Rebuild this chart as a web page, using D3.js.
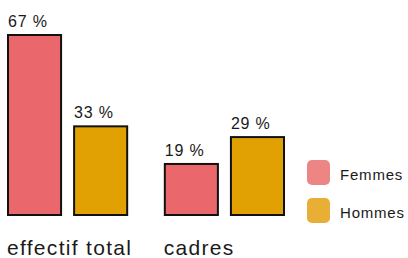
<!DOCTYPE html>
<html>
<head>
<meta charset="utf-8">
<script src="https://d3js.org/d3.v7.min.js"></script>
<style>
  body { margin: 0; background: #fff; }
  text { font-family: "Liberation Sans", Arial, sans-serif; fill: #1a1a1a; }
</style>
</head>
<body>
<div id="chart"></div>
<script>
var svgWidth = 408;
var svgHeight = 258;

// data
var categories = ["effectif total", "cadres"];
var series = ["Femmes", "Hommes"];
var femmes = [67, 19];
var hommes = [33, 29];
var colors = ["#EA676B", "#E2A102"];
var legendColors = ["#EE8585", "#E9AE35"];

var baseline = 215;

var svg = d3.select("#chart")
  .append("svg")
  .attr("width", svgWidth)
  .attr("height", svgHeight);

// scales
var x0 = d3.scaleBand()
  .domain(categories)
  .range([8, 284])
  .paddingInner(0.24)
  .paddingOuter(0);

var x1 = d3.scaleBand()
  .domain(series)
  .range([0, x0.bandwidth()])
  .paddingInner(0.197)
  .paddingOuter(0);

var y = d3.scaleLinear()
  .domain([0, 67])
  .range([baseline, 35]);

var rows = categories.map(function(c, i) {
  return { cat: c, values: [
    { key: "Femmes", value: femmes[i] },
    { key: "Hommes", value: hommes[i] }
  ] };
});

var groups = svg.selectAll("g.cat")
  .data(rows)
  .enter()
  .append("g")
  .attr("class", "cat")
  .attr("transform", d => `translate(${x0(d.cat)}, 0)`);

groups.selectAll("rect")
  .data(d => d.values)
  .enter()
  .append("rect")
  .attr("x", d => x1(d.key))
  .attr("y", d => y(d.value))
  .attr("width", x1.bandwidth())
  .attr("height", d => y(0) - y(d.value))
  .attr("fill", d => colors[series.indexOf(d.key)])
  .attr("stroke", "#111")
  .attr("stroke-width", 2);

// value labels, left aligned on the bar
groups.selectAll("text.val")
  .data(d => d.values)
  .enter()
  .append("text")
  .attr("class", "val")
  .attr("x", d => x1(d.key))
  .attr("y", d => y(d.value) - 8)
  .attr("font-size", 16)
  .attr("letter-spacing", 0.8)
  .text(d => d.value + " %");

// category labels
svg.selectAll("text.cat")
  .data(categories)
  .enter()
  .append("text")
  .attr("class", "cat")
  .attr("x", d => x0(d) - 1)
  .attr("y", 255)
  .attr("font-size", 21)
  .attr("letter-spacing", 1.3)
  .text(d => d);

// legend
var legend = svg.selectAll("g.legend")
  .data(series)
  .enter()
  .append("g")
  .attr("class", "legend")
  .attr("transform", (d, i) => `translate(307, ${160 + i * 38})`);

legend.append("rect")
  .attr("width", 23)
  .attr("height", 25)
  .attr("rx", 5)
  .attr("fill", (d, i) => legendColors[i]);

legend.append("text")
  .attr("x", 33)
  .attr("y", 20)
  .attr("font-size", 15)
  .attr("letter-spacing", 0.8)
  .text(d => d);
</script>
</body>
</html>
